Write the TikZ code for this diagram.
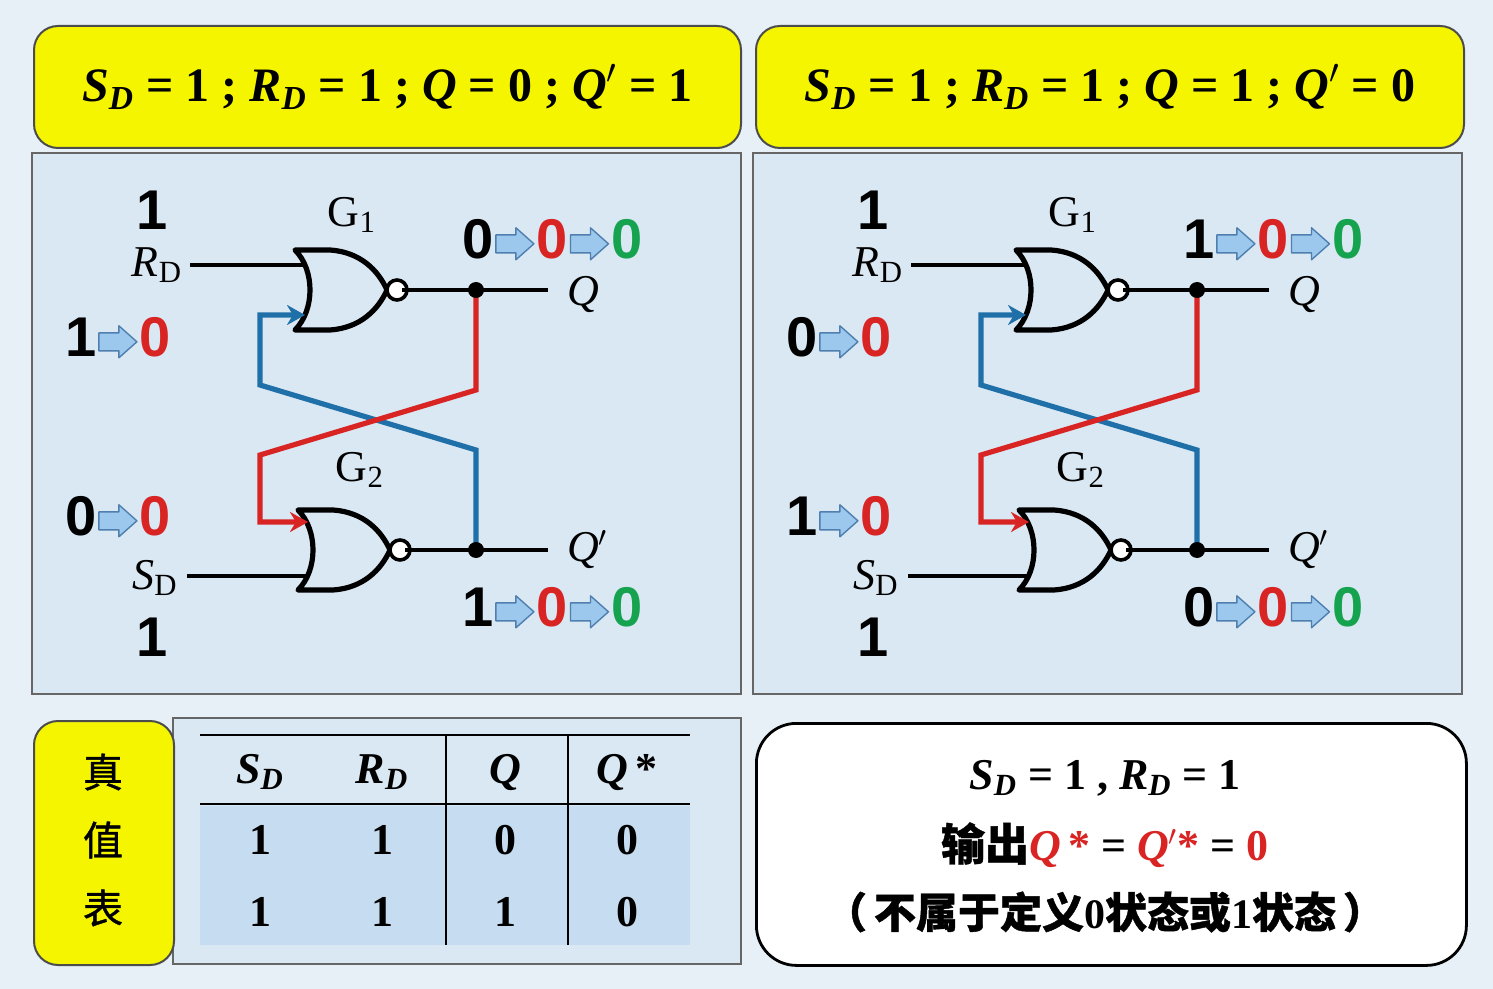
\documentclass[tikz,border=0pt]{standalone}
\usetikzlibrary{arrows.meta}
\usepackage{fontspec}
\setmainfont{Liberation Serif}
\newfontfamily\arl{Liberation Sans}
\newfontfamily\cjk{Noto Sans CJK SC}[FakeBold=1]
\definecolor{bgc}{HTML}{E6F0F6}
\definecolor{panel}{HTML}{DAE8F3}
\definecolor{yel}{HTML}{F5F500}
\definecolor{rd}{HTML}{D92424}
\definecolor{bl}{HTML}{1F6FA8}
\definecolor{gn}{HTML}{16A34F}
\definecolor{abl}{HTML}{9CC8EE}
\definecolor{abe}{HTML}{4F7FAF}
\definecolor{tbl}{HTML}{C6DCF0}
\newcommand\ba{\kern1pt\tikz[baseline=-0.5ex,x=1pt,y=1pt]\draw[fill=abl,draw=abe,line width=0.7pt,line join=round] (0,-4.5)--(10,-4.5)--(10,-8)--(19,0)--(10,8)--(10,4.5)--(0,4.5)--cycle;\kern1pt}
\newcommand\dgt[2]{\textcolor{#1}{#2}}
\newcommand\itsub[2]{\textit{#1}\textsubscript{#2}}
\tikzset{
  dig/.style={font=\arl\bfseries\fontsize{28}{28}\selectfont},
  wire/.style={line width=1.6pt},
  gate/.style={line width=2.6pt,line join=round},
  fb/.style={line width=2.6pt,-{Stealth[length=9pt,width=10pt]}},
  lab/.style={font=\fontsize{22}{22}\selectfont},
  ybox/.style={draw=black!70,line width=1pt,fill=yel,rounded corners=12pt},
  pbox/.style={draw=black!60,line width=1pt,fill=panel},
}
\newcommand\nor[3]{% name, back-x, center y
  \draw[gate] (#2,#3-40) .. controls (#2+20,#3-20) and (#2+20,#3+20) .. (#2,#3+40)
    -- (#2+35,#3+40) .. controls (#2+65,#3+38) and (#2+83,#3+20) .. (#2+92,#3)
    .. controls (#2+83,#3-20) and (#2+65,#3-38) .. (#2+35,#3-40) -- cycle;
  \draw[line width=1.8pt,fill=white] (#2+102,#3) circle[radius=5pt];
  \coordinate (#1out) at (#2+107,#3);
}
\newcommand\circuit[6]{% xshift, Rlabel, Rchange, Schange, topout, botout
\begin{scope}[xshift=#1*0.5pt]
  \draw[pbox] (32,153) rectangle (741,694);
  \nor{ga#1}{295}{290}
  \nor{gb#1}{298}{550}
  \node[lab] (g1#1) at (352,215) {G\textsubscript{1}};
  \node[lab] (g2#1) at (360,470) {G\textsubscript{2}};
  \node[dig] (r1#1) at (152,210) {#2};
  \node[dig] (s1#1) at (152,637) {1};
  \node[lab] (rl#1) at (157,265) {\itsub{R}{D}};
  \node[lab] (sl#1) at (155,578) {\itsub{S}{D}};
  \node[lab,anchor=west] (ql#1) at (560,295) {\textit{Q}};
  \node[lab,anchor=west] (qpl#1) at (560,550) {\textit{Q}$'$};
  \node[dig,anchor=west] (rc#1) at (58,338) {#3};
  \node[dig,anchor=west] (sc#1) at (58,517) {#4};
  \node[dig,anchor=west] (tc#1) at (455,240) {#5};
  \node[dig,anchor=west] (bc#1) at (455,608) {#6};
  \coordinate (rin#1) at (190,265); \coordinate (sin#1) at (187,576);
  \coordinate (qend#1) at (548,290); \coordinate (qpend#1) at (548,550);
  \coordinate (qd#1) at (476,290); \coordinate (qpd#1) at (476,550);
  \draw[wire] (rin#1) -- (303,265);
  \draw[wire] (sin#1) -- (306,576);
  \draw[wire] (ga#1out) -- (qend#1);
  \draw[wire] (gb#1out) -- (qpend#1);
  \draw[fb,bl] (qpd#1) -- (476,450) -- (260,385) -- (260,315) -- (305,315);
  \draw[fb,rd] (qd#1) -- (476,390) -- (260,455) -- (260,522) -- (308,522);
  \fill (qd#1) circle[radius=4pt];
  \fill (qpd#1) circle[radius=4pt];
\end{scope}}
\begin{document}
\begin{tikzpicture}[x=0.5pt,y=-0.5pt]
\fill[bgc] (0,0) rectangle (1493,989);
\useasboundingbox (0,0) rectangle (1493,989);
% top boxes
\node[ybox,minimum width=353.5pt,minimum height=61pt,anchor=north west,
  font=\fontsize{24}{24}\selectfont\bfseries] (yl) at (33,25)
  {\itsub{S}{\textit{D}} = 1 ; \itsub{R}{\textit{D}} = 1 ; \textit{Q} = 0 ; \textit{Q}$'$ = 1};
\node[ybox,minimum width=354pt,minimum height=61pt,anchor=north west,
  font=\fontsize{24}{24}\selectfont\bfseries] (yr) at (755,25)
  {\itsub{S}{\textit{D}} = 1 ; \itsub{R}{\textit{D}} = 1 ; \textit{Q} = 1 ; \textit{Q}$'$ = 0};
\circuit{0}{1}{1\ba\dgt{rd}{0}}{0\ba\dgt{rd}{0}}{0\ba\dgt{rd}{0}\ba\dgt{gn}{0}}{1\ba\dgt{rd}{0}\ba\dgt{gn}{0}}
\circuit{721}{1}{0\ba\dgt{rd}{0}}{1\ba\dgt{rd}{0}}{1\ba\dgt{rd}{0}\ba\dgt{gn}{0}}{0\ba\dgt{rd}{0}\ba\dgt{gn}{0}}
% truth table
\draw[pbox] (173,718) rectangle (741,964);
\node[ybox,minimum width=70pt,minimum height=122pt,anchor=north west] (tt) at (33,720) {};
\node[font=\cjk\fontsize{20}{20}\selectfont] (t1) at (103,772) {真};
\node[font=\cjk\fontsize{20}{20}\selectfont] (t2) at (103,840) {值};
\node[font=\cjk\fontsize{20}{20}\selectfont] (t3) at (103,908) {表};
\fill[tbl] (200,806) rectangle (690,945);
\draw[line width=1pt] (200,735) -- (690,735);
\draw[line width=1.2pt] (200,804) -- (690,804);
\draw[line width=1pt] (446,735) -- (446,945);
\draw[line width=1pt] (568,735) -- (568,945);
\begin{scope}[every node/.style={font=\fontsize{22}{22}\selectfont\bfseries}]
\node (h1) at (260,772) {\itsub{S}{\textit{D}}};
\node (h2) at (382,772) {\itsub{R}{\textit{D}}};
\node (h3) at (505,772) {\textit{Q}};
\node (h4) at (627,772) {\textit{Q}\,*};
\node at (260,840) {1}; \node at (382,840) {1}; \node at (505,840) {0}; \node at (627,840) {0};
\node at (260,912) {1}; \node at (382,912) {1}; \node at (505,912) {1}; \node at (627,912) {0};
\end{scope}
% conclusion box
\node[draw=black,line width=1.4pt,fill=white,rounded corners=20pt,minimum width=355pt,minimum height=121pt,anchor=north west] (cb) at (755,722) {};
\node[font=\fontsize{22}{22}\selectfont\bfseries] (c1) at (1105,778) {\itsub{S}{\textit{D}} = 1 , \itsub{R}{\textit{D}} = 1};
\node[font=\fontsize{22}{22}\selectfont\bfseries] (c2) at (1105,845) {{\cjk 输出}\textcolor{rd}{\textit{Q}\,*} = \textcolor{rd}{\textit{Q}$'$*} = \textcolor{rd}{0}};
\node[font=\fontsize{21}{21}\selectfont\bfseries] (c3) at (1105,912) {{\cjk （\,不属于定义}0{\cjk 状态或}1{\cjk 状态\,）}};
\end{tikzpicture}
\end{document}
